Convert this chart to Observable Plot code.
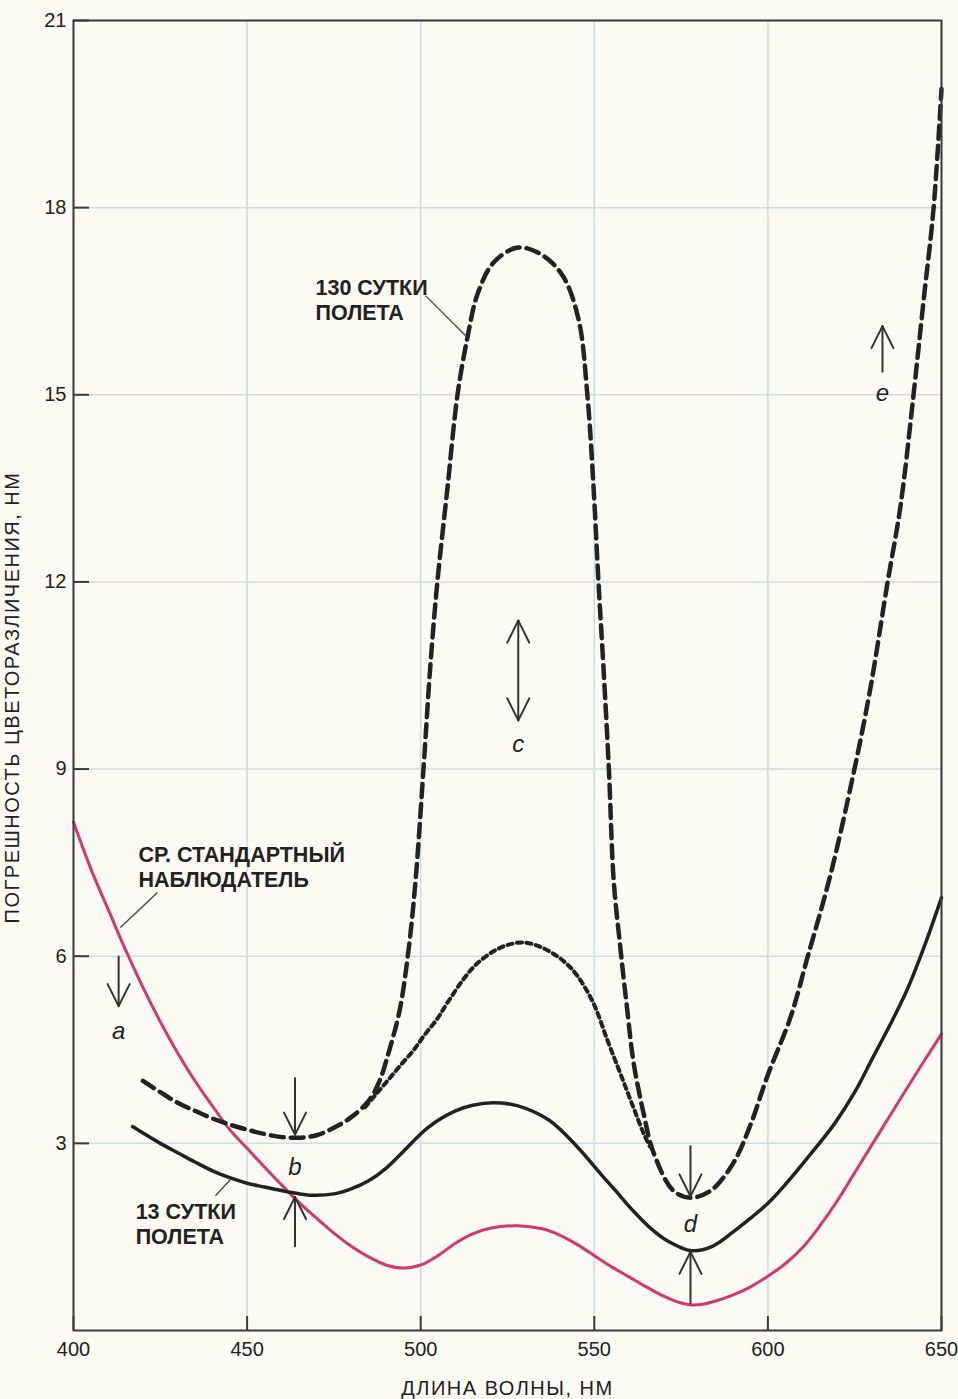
<!DOCTYPE html>
<html><head><meta charset="utf-8">
<script src="https://cdn.jsdelivr.net/npm/d3@7"></script>
<script src="https://cdn.jsdelivr.net/npm/@observablehq/plot@0.6"></script>
<style>body{margin:0;background:#fbfaf3}</style>
</head><body><div id="chart"></div>
<script>
// Axis ticks
const xTicks = [400, 450, 500, 550, 600, 650];
const yTicks = [3, 6, 9, 12, 15, 18, 21];
const xLabel = "ДЛИНА ВОЛНЫ, НМ";
const yLabel = "ПОГРЕШНОСТЬ ЦВЕТОРАЗЛИЧЕНИЯ, НМ";

// Series: [wavelength nm, error nm]
const standardObserver = [
  [400,8.15],[405,7.4],[410,6.75],[415,6.1],[420,5.5],[425,4.95],[430,4.45],[435,4.0],[440,3.6],
  [445,3.22],[450,2.92],[455,2.62],[460,2.33],[465,2.05],[470,1.8],[475,1.56],[480,1.35],[485,1.18],
  [490,1.05],[495,1.0],[500,1.05],[505,1.2],[510,1.4],[515,1.55],[520,1.64],[528,1.68],[535,1.63],
  [540,1.53],[545,1.38],[550,1.2],[555,1.02],[560,0.86],[565,0.7],[570,0.55],[575,0.44],[578,0.41],
  [582,0.43],[586,0.49],[590,0.57],[595,0.7],[600,0.87],[605,1.07],[610,1.33],[615,1.68],[620,2.08],
  [625,2.53],[630,2.98],[635,3.43],[640,3.88],[645,4.32],[650,4.75]
];
const day13 = [
  [417,3.27],[425,3.0],[430,2.85],[435,2.7],[440,2.56],[445,2.45],[450,2.36],[455,2.3],[461,2.23],
  [468,2.17],[475,2.19],[480,2.27],[485,2.4],[490,2.6],[495,2.87],[502,3.25],[510,3.52],[515,3.61],
  [521,3.65],[528,3.6],[537,3.37],[545,2.95],[552,2.5],[556,2.25],[561,1.93],[566,1.65],[571,1.44],
  [578,1.28],[584,1.35],[590,1.58],[595,1.8],[600,2.04],[605,2.34],[611,2.74],[619,3.3],[625,3.82],
  [630,4.35],[635,4.88],[640,5.45],[645,6.15],[650,6.94]
];
const day130 = [
  [420,4.0],[425,3.82],[430,3.65],[435,3.52],[440,3.4],[445,3.3],[450,3.22],[455,3.15],[460,3.1],
  [465,3.09],[470,3.13],[475,3.25],[480,3.42],[485,3.68],[488,3.98],[491,4.5],[494,5.15],[496.5,6.1],
  [498.5,7.2],[500.8,9.0],[502.8,10.67],[504.8,12.0],[507.7,13.5],[510.6,15.0],[513.5,15.93],
  [516.4,16.62],[521,17.12],[528,17.36],[535,17.24],[541,16.9],[545.5,16.2],[548,15.0],[549.8,13.5],
  [551.2,12.0],[552.6,10.67],[554.2,9.0],[555.6,7.2],[557.5,6.14],[559.6,5.08],[561.3,4.3],
  [564.2,3.48],[567,2.86],[572.8,2.24],[577.7,2.13],[583.5,2.24],[590,2.68],[595,3.3],[600,4.1],
  [606.5,5.02],[611.4,5.98],[618,7.3],[624.7,8.94],[629.5,10.29],[634.4,11.97],[638.2,13.22],
  [641.9,14.98],[644.8,16.49],[647.7,17.98],[650,19.9]
];
const intermediate = [
  [484,3.58],[487,3.78],[490.4,4.0],[494,4.24],[497.9,4.49],[501,4.73],[504.8,5.0],[508,5.28],
  [512.3,5.63],[516,5.87],[521,6.08],[525,6.18],[529.6,6.22],[534,6.16],[538.2,6.04],[542,5.88],
  [545.2,5.68],[549.8,5.24],[553.8,4.65],[557.5,4.12],[561.3,3.57],[564.2,3.16],[566,2.95]
];

// Annotations
const curveLabels = [
  {x: 469.7, y: 16.53, text: "130 СУТКИ\nПОЛЕТА"},
  {x: 418.7, y: 7.44, text: "СР. СТАНДАРТНЫЙ\nНАБЛЮДАТЕЛЬ"},
  {x: 417.9, y: 1.71, text: "13 СУТКИ\nПОЛЕТА"}
];
const leaders = [
  {x1: 501.4, y1: 16.59, x2: 512.9, y2: 15.95},
  {x1: 424.2, y1: 7.02, x2: 413.5, y2: 6.46},
  {x1: 445.2, y1: 2.42, x2: 440.9, y2: 2.16}
];
// arrows: shaft from -> to (tip at "to")
const arrows = [
  {x: 413.0, from: 6.0, to: 5.2},
  {x: 463.8, from: 4.05, to: 3.14},
  {x: 463.8, from: 1.33, to: 2.14},
  {x: 528.1, from: 10.58, to: 11.38},
  {x: 528.1, from: 10.58, to: 9.78},
  {x: 577.7, from: 2.96, to: 2.15},
  {x: 577.7, from: 0.42, to: 1.26},
  {x: 633.0, from: 15.35, to: 16.1}
];
const letters = [
  {x: 413.0, y: 4.8, text: "a"},
  {x: 463.8, y: 2.62, text: "b"},
  {x: 528.1, y: 9.4, text: "c"},
  {x: 577.7, y: 1.7, text: "d"},
  {x: 633.0, y: 15.03, text: "e"}
];

const toRows = (pts) => pts.map(([wl, v]) => ({wl, v}));

const W = 958, H = 1399, mL = 73, mR = 17, mT = 20, mB = 69;
const innerW = W - mL - mR, innerH = H - mT - mB;
const ink = "#222";
const font = "'Liberation Sans', Arial, Helvetica, sans-serif";

// arrowhead wings (pixel size converted to data units)
const headDx = 11 * 250 / innerW, headDy = 22 * 21 / innerH;
const wings = arrows.flatMap(a => {
  const s = a.to > a.from ? -1 : 1;
  return [-1, 1].map(side => ({x1: a.x, y1: a.to, x2: a.x + side * headDx, y2: a.to + s * headDy}));
});

const chart = Plot.plot({
  width: W, height: H,
  marginLeft: mL, marginRight: mR, marginTop: mT, marginBottom: mB,
  style: {background: "#fbfaf3", fontFamily: font, color: ink, fontSize: "20px"},
  x: {domain: [400, 650]},
  y: {domain: [0, 21]},
  marks: [
    Plot.gridX(xTicks, {stroke: "#cddde6", strokeOpacity: 1, strokeWidth: 1.5}),
    Plot.gridY(yTicks, {stroke: "#cddde6", strokeOpacity: 1, strokeWidth: 1.5}),
    Plot.tickY(yTicks, {y: d => d, stroke: "#3a3a3a", strokeWidth: 2, insetRight: innerW - 16}),
    Plot.tickX(xTicks, {x: d => d, stroke: "#3a3a3a", strokeWidth: 2, insetTop: innerH - 14}),
    Plot.axisY(yTicks, {tickSize: 0, tickPadding: 7, fontSize: 20, label: null, fill: ink, tickFormat: d3.format("d")}),
    Plot.axisX(xTicks, {tickSize: 0, tickPadding: 11, fontSize: 20, label: null, fill: ink, tickFormat: d3.format("d")}),
    Plot.line(toRows(standardObserver), {x: "wl", y: "v", stroke: "#d3386b", strokeWidth: 3, curve: "catmull-rom"}),
    Plot.line(toRows(intermediate), {x: "wl", y: "v", stroke: "#222", strokeWidth: 4, strokeDasharray: "5,4.5", curve: "catmull-rom"}),
    Plot.line(toRows(day130), {x: "wl", y: "v", stroke: "#222", strokeWidth: 4.5, strokeDasharray: "13,7", curve: "catmull-rom"}),
    Plot.line(toRows(day13), {x: "wl", y: "v", stroke: "#222", strokeWidth: 3.5, curve: "catmull-rom"}),
    Plot.link(leaders, {x1: "x1", y1: "y1", x2: "x2", y2: "y2", stroke: "#444", strokeWidth: 1.3}),
    Plot.ruleX(arrows, {x: "x", y1: "from", y2: "to", stroke: "#333", strokeWidth: 2}),
    Plot.link(wings, {x1: "x1", y1: "y1", x2: "x2", y2: "y2", stroke: "#333", strokeWidth: 2, strokeLinecap: "round"}),
    Plot.text(curveLabels, {x: "x", y: "y", text: "text", textAnchor: "start", lineAnchor: "middle", lineHeight: 1.15, fontSize: 21.5, fontWeight: "bold", fill: ink}),
    Plot.text(letters, {x: "x", y: "y", text: "text", fontSize: 24, fontStyle: "italic", fill: ink}),
    Plot.text([yLabel], {frameAnchor: "left", dx: -61, dy: 22, rotate: -90, textAnchor: "middle", lineAnchor: "middle", fontSize: 20, fill: ink}),
    Plot.text([xLabel], {frameAnchor: "bottom", dy: 58, textAnchor: "middle", lineAnchor: "middle", fontSize: 20, fill: ink}),
    Plot.frame({stroke: "#3a3a3a", strokeWidth: 2})
  ]
});
d3.select(chart).selectAll("text")
  .filter(function() { return this.textContent === xLabel || this.textContent === yLabel; })
  .attr("letter-spacing", "1.5px");
document.getElementById("chart").appendChild(chart);
</script>
</body></html>
